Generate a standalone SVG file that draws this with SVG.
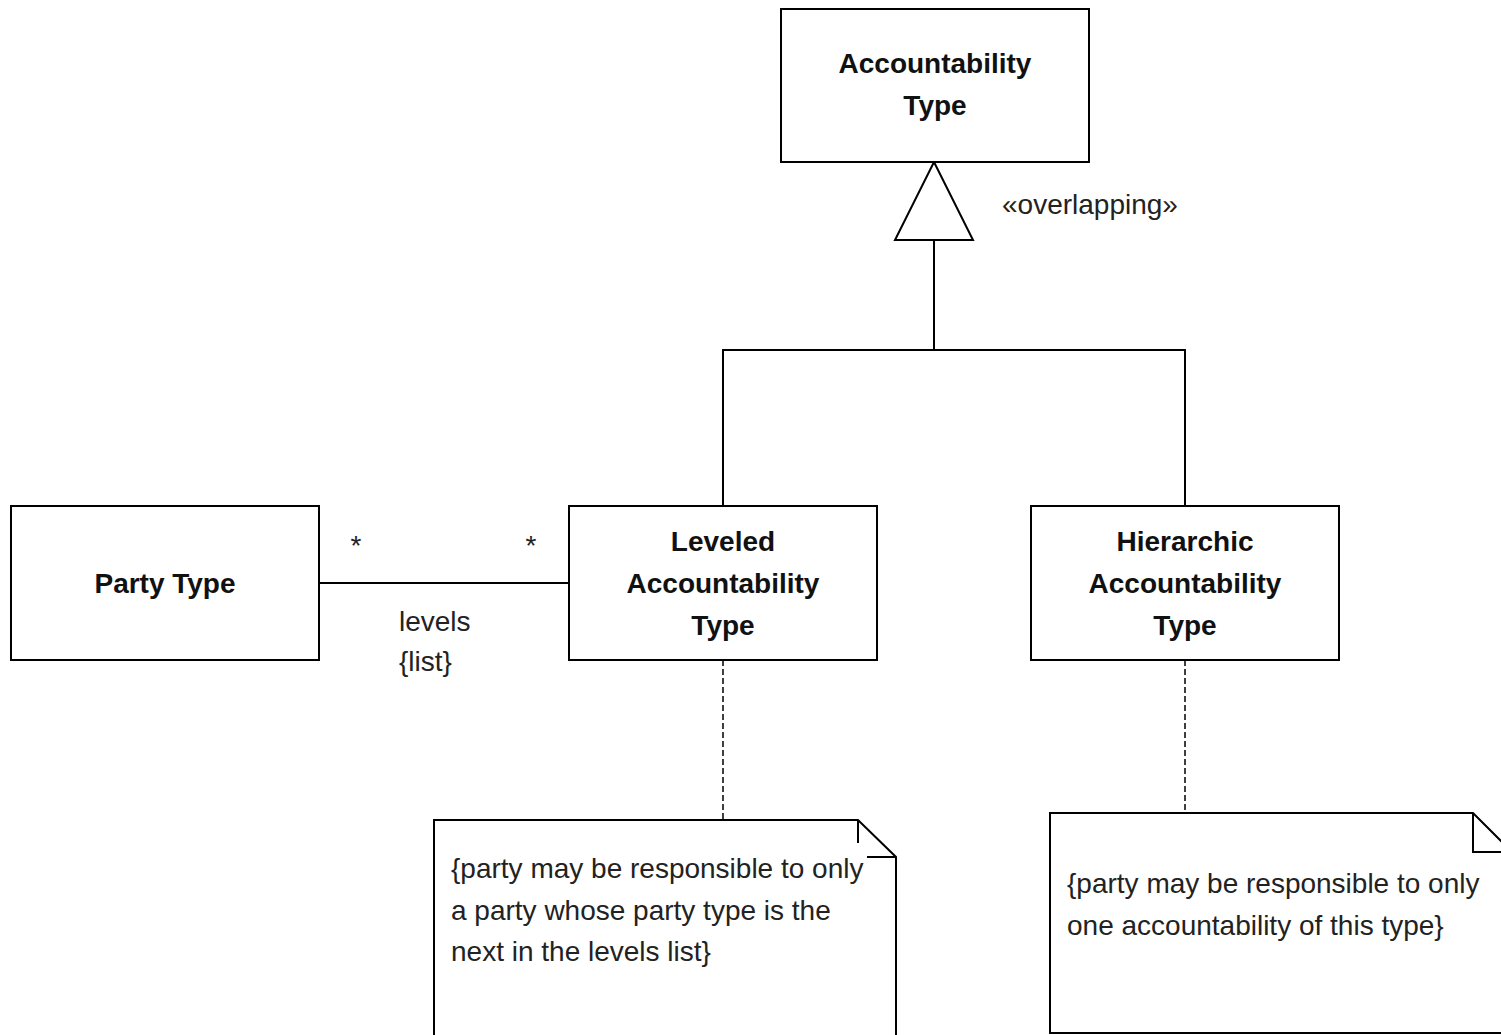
<svg xmlns="http://www.w3.org/2000/svg" width="1501" height="1035" viewBox="0 0 1501 1035">
<style>
.box{fill:#fff;stroke:#000;stroke-width:2}
.ln{fill:none;stroke:#000;stroke-width:2}
.dash{fill:none;stroke:#000;stroke-width:1.5;stroke-dasharray:6 3}
.t{font-family:"Liberation Sans",Arial,sans-serif;font-size:28px;font-weight:bold;text-anchor:middle;fill:#111}
.r{font-family:"Liberation Sans",Arial,sans-serif;font-size:28px;fill:#222}
</style>
<rect width="1501" height="1035" fill="#fff"/>
<g id="connectors">
<polyline class="ln" points="934,240 934,350 723,350 723,506"/>
<polyline class="ln" points="934,350 1185,350 1185,506"/>
<polygon class="ln" fill="#fff" points="934,162 973,240 895,240"/>
<line class="ln" x1="319" y1="583" x2="569" y2="583"/>
<line class="dash" x1="723" y1="660" x2="723" y2="820"/>
<line class="dash" x1="1185" y1="660" x2="1185" y2="813"/>
<text class="r" x="1002" y="214">«overlapping»</text>
<text class="r" x="356" y="555" text-anchor="middle" font-size="42">*</text>
<text class="r" x="531" y="555" text-anchor="middle" font-size="42">*</text>
<text class="r" x="399" y="631">levels</text>
<text class="r" x="399" y="671">{list}</text>
</g>
<g id="accountability-type">
<rect class="box" x="781" y="9" width="308" height="153"/>
<text class="t" x="935" y="73">Accountability</text>
<text class="t" x="935" y="115">Type</text>
</g>
<g id="party-type">
<rect class="box" x="11" y="506" width="308" height="154"/>
<text class="t" x="165" y="593">Party Type</text>
</g>
<g id="leveled">
<rect class="box" x="569" y="506" width="308" height="154"/>
<text class="t" x="723" y="551">Leveled</text>
<text class="t" x="723" y="593">Accountability</text>
<text class="t" x="723" y="635">Type</text>
</g>
<g id="hierarchic">
<rect class="box" x="1031" y="506" width="308" height="154"/>
<text class="t" x="1185" y="551">Hierarchic</text>
<text class="t" x="1185" y="593">Accountability</text>
<text class="t" x="1185" y="635">Type</text>
</g>
<g id="note-leveled">
<path class="box" d="M434,1040 V820 H858 L896,857 V1040"/>
<line class="ln" x1="858" y1="820" x2="858" y2="843"/>
<line class="ln" x1="867" y1="857" x2="896" y2="857"/>
<text class="r" x="451" y="878">{party may be responsible to only</text>
<text class="r" x="451" y="920">a party whose party type is the</text>
<text class="r" x="451" y="961">next in the levels list}</text>
</g>
<g id="note-hierarchic">
<path class="box" d="M1050,1033 V813 H1473 L1512,852 V1033 Z"/>
<polyline class="ln" points="1473,813 1473,852 1512,852"/>
<text class="r" x="1067" y="893">{party may be responsible to only</text>
<text class="r" x="1067" y="935">one accountability of this type}</text>
</g>
</svg>
